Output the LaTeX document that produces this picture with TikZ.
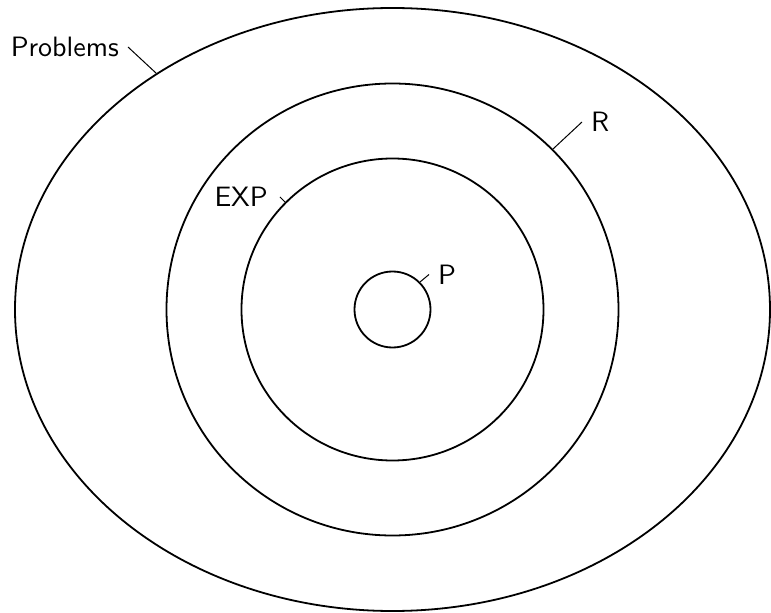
\documentclass[tikz,border=0pt]{standalone}
\usetikzlibrary{shapes.geometric}
\tikzset{
  oval/.style={draw, ellipse, line width=1.8pt, inner sep=0pt},
  ring/.style={draw, circle, line width=1.8pt, inner sep=0pt},
  tag/.style={font=\sffamily, inner sep=9pt},
  lead/.style={line width=1pt},
}
\newcommand{\tagtext}[1]{\scalebox{2.8}{#1}}
\begin{document}
\begin{tikzpicture}[x=1pt, y=1pt]
  \useasboundingbox (-392.5,-303.5) rectangle (378.5,309.5);
  % nested classes
  \node[oval, minimum width=755pt, minimum height=603pt] (problems) at (0,0) {};
  \node[ring, minimum size=452pt] (r) at (0,0) {};
  \node[ring, minimum size=302pt] (exp) at (0,0) {};
  \node[ring, minimum size=76pt] (p) at (0,0) {};
  % labels
  \node[tag, anchor=east] (problemstag) at (-264.5,262.5) {\tagtext{Problems}};
  \node[tag, anchor=west] (rtag) at (189.5,187.5) {\tagtext{R}};
  \node[tag, anchor=east, inner sep=12pt] (exptag) at (-112.5,112.5) {\tagtext{EXP}};
  \node[tag, anchor=west] (ptag) at (36.5,35) {\tagtext{P}};
  \draw[lead] (problems.135) -- (problemstag.east);
  \draw[lead] (r.45) -- (rtag.west);
  \draw[lead] (exp.135) -- (exptag.east);
  \draw[lead] (p.45) -- (ptag.west);
\end{tikzpicture}
\end{document}
